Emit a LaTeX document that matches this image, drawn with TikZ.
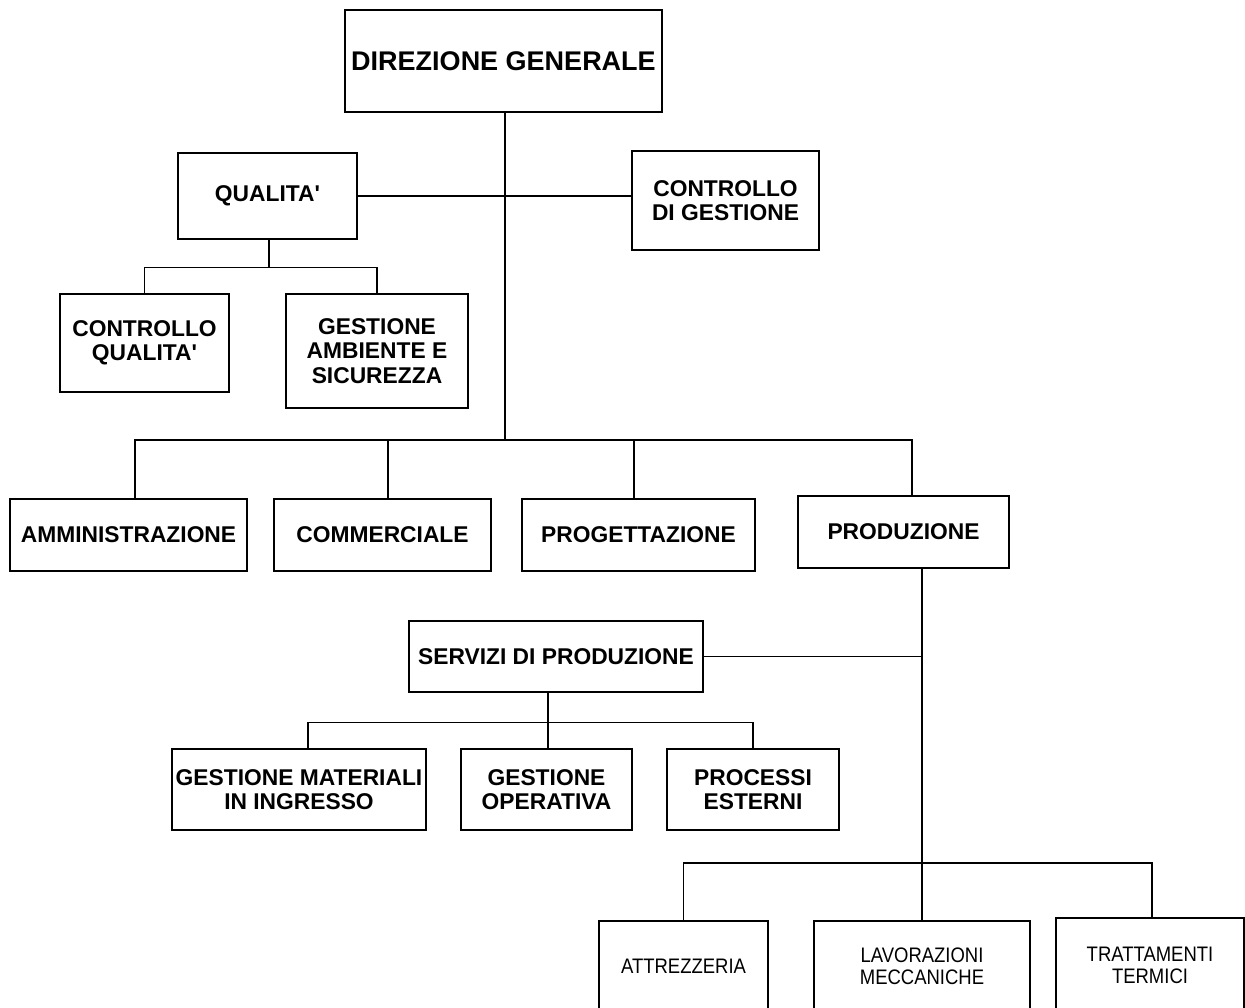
\documentclass[tikz,border=0pt]{standalone}
\usepackage{fontspec}
\setmainfont{Liberation Sans}
\newfontfamily\narrowfont[FakeStretch=0.88]{Liberation Sans}
\usepackage{tikz}

\begin{document}
\begin{tikzpicture}[x=1pt, y=-1pt, line width=1.1pt,
  unit/.style={rectangle, draw, inner sep=0pt, align=center,
    font=\fontsize{22.8}{24.5}\selectfont\bfseries},
  workshop/.style={unit, font=\fontsize{21}{22}\selectfont\narrowfont}]

\path[fill=white, use as bounding box] (0,0) rectangle (1245,1007);
\clip (0,0) rectangle (1245,1007);

\node[unit, minimum width=317pt, minimum height=102pt,
  font=\fontsize{27}{28}\selectfont\bfseries] (dg) at (503.5,61) {DIREZIONE GENERALE};
\node[unit, minimum width=179pt, minimum height=86pt] (qual) at (267.5,196) {QUALITA\textquotesingle};
\node[unit, minimum width=187pt, minimum height=99pt] (cdg) at (725.5,200.5) {CONTROLLO\\DI GESTIONE};
\node[unit, minimum width=169pt, minimum height=98pt] (cq) at (144.5,343) {CONTROLLO\\QUALITA\textquotesingle};
\node[unit, minimum width=182pt, minimum height=114pt] (gas) at (377,351) {GESTIONE\\AMBIENTE E\\SICUREZZA};

\node[unit, minimum width=237pt, minimum height=72pt] (amm) at (128.5,535) {AMMINISTRAZIONE};
\node[unit, minimum width=217pt, minimum height=72pt] (comm) at (382.5,535) {COMMERCIALE};
\node[unit, minimum width=233pt, minimum height=72pt] (prog) at (638.5,535) {PROGETTAZIONE};
\node[unit, minimum width=211pt, minimum height=72pt] (prod) at (903.5,532) {PRODUZIONE};

\node[unit, minimum width=294pt, minimum height=71pt] (serv) at (556,656.5) {SERVIZI DI PRODUZIONE};
\node[unit, minimum width=254pt, minimum height=81pt] (gmi) at (299,789.5) {GESTIONE MATERIALI\\IN INGRESSO};
\node[unit, minimum width=171pt, minimum height=81pt] (go) at (546.5,789.5) {GESTIONE\\OPERATIVA};
\node[unit, minimum width=172pt, minimum height=81pt] (pe) at (753,789.5) {PROCESSI\\ESTERNI};

\node[workshop, minimum width=169pt, minimum height=90pt] (attr) at (683.5,966) {ATTREZZERIA};
\node[workshop, minimum width=216pt, minimum height=90pt] (lav) at (922,966) {LAVORAZIONI\\MECCANICHE};
\node[workshop, minimum width=188pt, minimum height=94pt] (trat) at (1150,965) {TRATTAMENTI\\TERMICI};

% direzione
\coordinate (bus) at ([xshift=1.5pt]dg.south |- 0,440);
\draw ([xshift=1.5pt]dg.south) -- (bus);
\draw (qual.east) -- (qual.east -| cdg.west);
\draw ([xshift=1.5pt]qual.south) -- ++(0,28) coordinate (qbus);
\draw (cq.north) |- (qbus) -| (gas.north);

% funzioni
\draw ([xshift=6.5pt]amm.north) |- (bus) -| ([xshift=8.5pt]prod.north);
\draw ([xshift=5.5pt]comm.north) -- ([xshift=5.5pt]comm.north |- bus);
\draw ([xshift=-4.5pt]prog.north) -- ([xshift=-4.5pt]prog.north |- bus);

% produzione
\draw (prod.south -| lav.north) -- (lav.north);
\draw (serv.east) -- (serv.east -| lav.north);
\draw ([xshift=-8pt]serv.south) -- ++(0,30) coordinate (sbus);
\draw ([xshift=9pt]gmi.north) |- (sbus) -| (pe.north);
\draw ([xshift=1.5pt]go.north) -- ([xshift=1.5pt]go.north |- sbus);
\draw (attr.north) |- (lav.north |- 0,863) -| ([xshift=2pt]trat.north);

\end{tikzpicture}
\end{document}
